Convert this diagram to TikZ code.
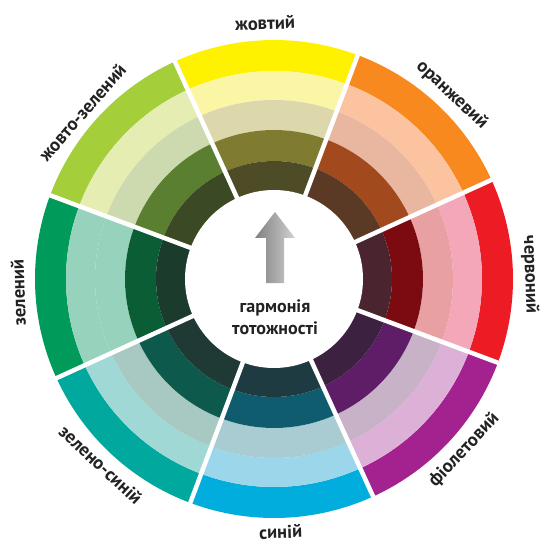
\documentclass[tikz,border=0pt]{standalone}
\usepackage{fontspec}
\setmainfont{PT Sans}
\definecolor{Ya}{HTML}{FFF200}\definecolor{Yb}{HTML}{FBF6A6}\definecolor{Yc}{HTML}{DCD8AC}\definecolor{Yd}{HTML}{7F7B30}\definecolor{Ye}{HTML}{4E4B27}
\definecolor{Oa}{HTML}{F7891F}\definecolor{Ob}{HTML}{FCC3A0}\definecolor{Oc}{HTML}{E9B7A0}\definecolor{Od}{HTML}{A24A1E}\definecolor{Oe}{HTML}{5A3A25}
\definecolor{Ra}{HTML}{ED1C24}\definecolor{Rb}{HTML}{F4A7B9}\definecolor{Rc}{HTML}{E8A0A3}\definecolor{Rd}{HTML}{7B0B10}\definecolor{Re}{HTML}{4A2530}
\definecolor{Va}{HTML}{A3228F}\definecolor{Vb}{HTML}{DDB0D8}\definecolor{Vc}{HTML}{C8B2C8}\definecolor{Vd}{HTML}{5E1D66}\definecolor{Ve}{HTML}{3D2140}
\definecolor{Ba}{HTML}{00ADDC}\definecolor{Bb}{HTML}{9BD6EA}\definecolor{Bc}{HTML}{A9CCD3}\definecolor{Bd}{HTML}{0F5C6E}\definecolor{Be}{HTML}{1E3B42}
\definecolor{Ta}{HTML}{00A89E}\definecolor{Tb}{HTML}{A0D8D6}\definecolor{Tc}{HTML}{A8C9C2}\definecolor{Td}{HTML}{0D5A4C}\definecolor{Te}{HTML}{1F3A35}
\definecolor{Ga}{HTML}{009A5A}\definecolor{Gb}{HTML}{97D2BC}\definecolor{Gc}{HTML}{97D2BC}\definecolor{Gd}{HTML}{0A5D35}\definecolor{Ge}{HTML}{1B3C2C}
\definecolor{La}{HTML}{A4CE3A}\definecolor{Lb}{HTML}{E5EDB2}\definecolor{Lc}{HTML}{CDDAB0}\definecolor{Ld}{HTML}{5B7F31}\definecolor{Le}{HTML}{3B4925}
\definecolor{txt}{HTML}{222222}
\pgfdeclareradialshading{ballshade}{\pgfpoint{0bp}{0bp}}{color(0bp)=(white); color(30bp)=(white); color(50bp)=(black!10)}
\begin{document}
\begin{tikzpicture}[x=1pt,y=1pt,
  lbl/.style={font=\bfseries\fontsize{18.5}{18.5}\selectfont, text=txt, inner sep=0pt},
  ctr/.style={font=\bfseries\fontsize{18}{22}\selectfont, text=txt, align=center, inner sep=0pt},
  gapline/.style={white, line width=4.5pt}]
\useasboundingbox (-274,-264) rectangle (266,279);
\fill[white] (-274,-264) rectangle (266,279);
\foreach \c/\a/\b/\cc/\d/\e in {92/Ya/Yb/Yc/Yd/Ye, 47/Oa/Ob/Oc/Od/Oe, 2/Ra/Rb/Rc/Rd/Re, -43/Va/Vb/Vc/Vd/Ve, -88/Ba/Bb/Bc/Bd/Be, -133/Ta/Tb/Tc/Td/Te, -178/Ga/Gb/Gc/Gd/Ge, 137/La/Lb/Lc/Ld/Le}{
  \foreach \ro/\ri/\col in {239/208/\a, 208/179/\b, 179/149/\cc, 149/118/\d, 118/84/\e}{
    \fill[\col] (\c-23:\ro) arc[start angle=\c-23, end angle=\c+23, radius=\ro] -- (\c+23:\ri) arc[start angle=\c+23, end angle=\c-23, radius=\ri] -- cycle;
  }
}
\foreach \g in {114.5,69.5,24.5,-20.5,-65.5,-110.5,-155.5,159.5}{
  \draw[gapline] (\g:80) -- (\g:246);
}
\shade[shading=ballshade] (0,0) circle (89);
\shade[left color=black!50, right color=black!18] (-8,-4) -- (-8,41) -- (-19,41) -- (1,67) -- (21,41) -- (10,41) -- (10,-4) -- cycle;
\node[ctr] (center) at (1,-38) {гармонія\\тотожності};
\node[lbl, rotate=2] (yellow) at (92:256) {жовтий};
\node[lbl, rotate=-43] (orange) at (46:256) {оранжевий};
\node[lbl, rotate=-88] (red) at (1:256) {червоний};
\node[lbl, rotate=47] (violet) at (-42:256) {фіолетовий};
\node[lbl, rotate=2] (blue) at (-88.5:253) {синій};
\node[lbl, rotate=-43] (bluegreen) at (-133:254) {зелено-синій};
\node[lbl, rotate=92] (green) at (-177:256) {зелений};
\node[lbl, rotate=49] (yellowgreen) at (139:254) {жовто-зелений};
\end{tikzpicture}
\end{document}
